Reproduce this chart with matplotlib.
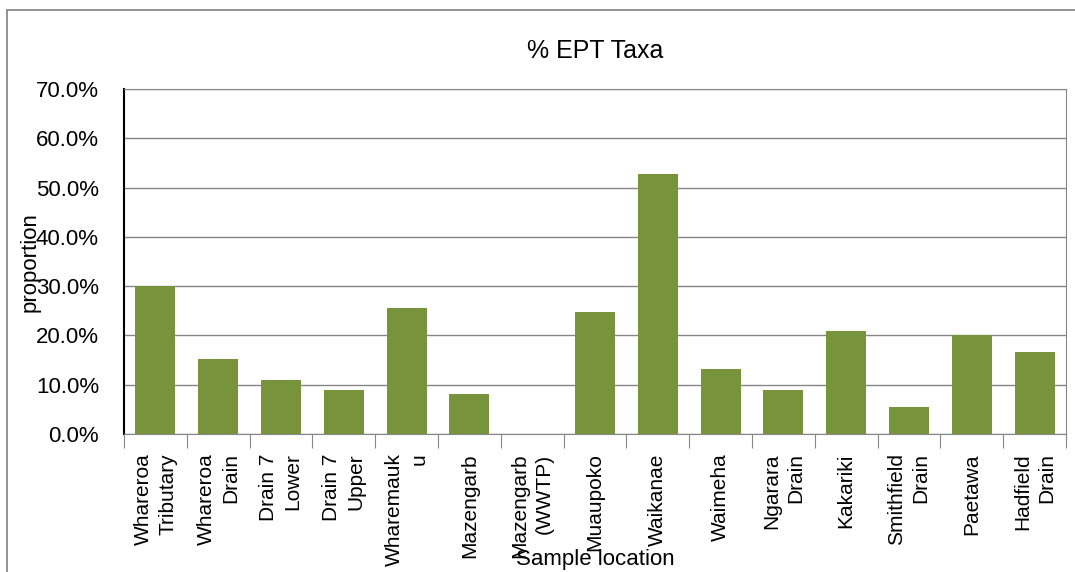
import matplotlib
matplotlib.use("Agg")
import matplotlib.pyplot as plt
from matplotlib.ticker import PercentFormatter
from matplotlib.patches import Rectangle

plt.rcParams['font.family'] = ['Liberation Sans', 'DejaVu Sans']

sites = ["Whareroa\nTributary", "Whareroa\nDrain", "Drain 7\nLower", "Drain 7\nUpper",
         "Wharemauk\nu", "Mazengarb", "Mazengarb\n(WWTP)", "Muaupoko", "Waikanae",
         "Waimeha", "Ngarara\nDrain", "Kakariki", "Smithfield\nDrain", "Paetawa",
         "Hadfield\nDrain"]
ept_pct = [30.0, 15.3, 11.0, 9.0, 25.6, 8.2, 0.0, 24.8, 52.8, 13.2, 9.0, 21.0, 5.4, 20.0, 16.6]

fig = plt.figure(figsize=(10.75, 5.72), dpi=100)
ax = fig.add_axes([124 / 1075, 1 - 434 / 572, 942 / 1075, 345 / 572])

# outer chart border
fig.patches.append(Rectangle((7 / 1075, -0.01), 1.1, 1 - 10 / 572 + 0.01,
                             transform=fig.transFigure, fill=False,
                             edgecolor='#808080', linewidth=1.2))

x = list(range(len(sites)))
ax.bar(x, ept_pct, width=0.64, color='#77933C', zorder=3)

ax.set_xlim(-0.5, len(sites) - 0.5)
ax.set_ylim(0, 70)
ax.set_yticks(range(0, 71, 10))
ax.yaxis.set_major_formatter(PercentFormatter(decimals=1))
ax.grid(axis='y', color='#868686', linewidth=1, zorder=0)

ax.set_xticks([i - 0.5 for i in range(len(sites) + 1)], minor=False)
ax.set_xticklabels([])
ax.set_xticks(x, minor=True)
ax.set_xticklabels(sites, minor=True, rotation=90, va='top', ha='center',
                   multialignment='right', fontsize=15, linespacing=1.35)
ax.tick_params(axis='x', which='major', length=10, color='#868686', direction='out')
ax.tick_params(axis='x', which='minor', length=0, pad=14)
ax.tick_params(axis='y', length=0, labelsize=16, pad=18)

for side in ('top', 'right'):
    ax.spines[side].set_color('#868686')
ax.spines['bottom'].set_color('#868686')
ax.spines['left'].set_color('black')
ax.spines['left'].set_linewidth(1.5)

ax.set_title('% EPT Taxa', fontsize=18, pad=22)
fig.text(595 / 1075, 1 - 560 / 572, 'Sample location', fontsize=16,
         ha='center', va='center')
fig.text(30 / 1075, 1 - 262 / 572, 'proportion', fontsize=16, rotation=90,
         ha='center', va='center')

fig.savefig('out.png', dpi=100)
